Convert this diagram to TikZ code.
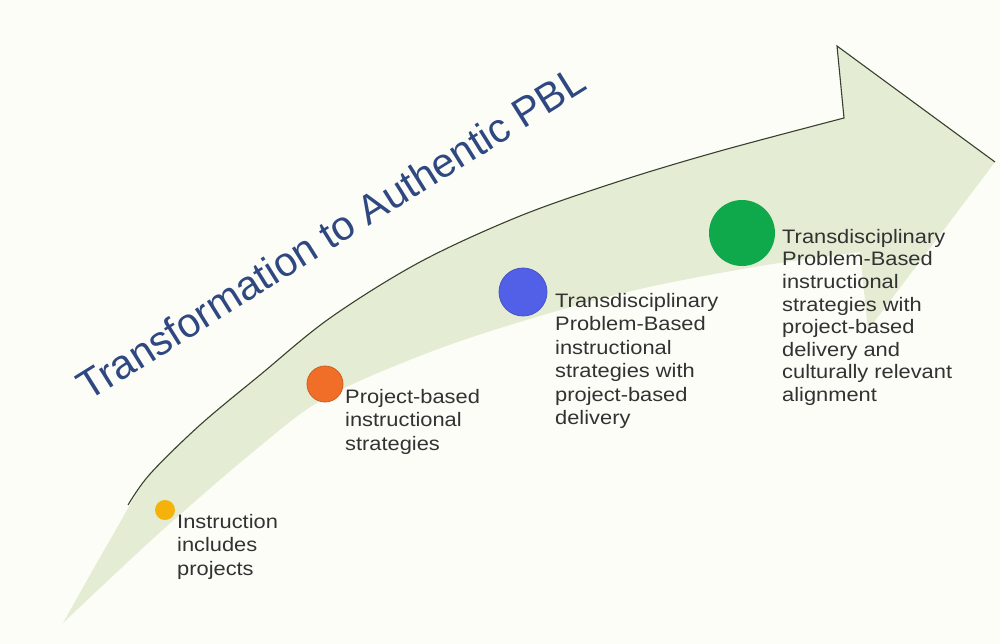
\documentclass[tikz,border=0pt]{standalone}
\usepackage{fontspec}
\setmainfont{Liberation Sans}
\newfontfamily\bodyfont[FakeStretch=1.12]{Liberation Sans}
\definecolor{bg}{RGB}{253,253,247}
\definecolor{arrowfill}{RGB}{228,236,212}
\definecolor{arrowedge}{RGB}{55,65,45}
\definecolor{titleblue}{RGB}{47,72,130}
\definecolor{txtgray}{RGB}{50,50,50}
\definecolor{cyellow}{RGB}{245,178,10}
\definecolor{corange}{RGB}{240,110,40}
\definecolor{cblue}{RGB}{82,96,232}
\definecolor{cgreen}{RGB}{15,168,75}
\begin{document}
\begin{tikzpicture}[x=1pt,y=-1pt,
  stagedot/.style={circle,inner sep=0pt,minimum size=#1},
  desc/.style={anchor=north west,inner sep=0pt,align=left,text=txtgray,
    font=\bodyfont\fontsize{19.5}{23.5}\selectfont},
  desctight/.style={desc,font=\bodyfont\fontsize{19.5}{22.6}\selectfont},
]
\useasboundingbox (0,0) rectangle (1000,644);
\fill[bg] (0,0) rectangle (1000,644);

% arrow body
\fill[arrowfill] plot[smooth,tension=0.55] coordinates {(63,623) (110,540) (150,474) (200,425) (260,375) (330,318) (420,262) (520,216) (620,181) (720,151) (844,118)}
  -- (837,46) -- (995,162) -- (868,330) -- (860,252)
  -- plot[smooth,tension=0.55] coordinates {(860,252) (760,266) (640,289) (533,318) (430,352) (325,398) (253,452) (157,535) (63,623)} -- cycle;

% dark outline on the upper edge and the arrow head
\draw[arrowedge,line width=1.1pt,line join=miter] plot[smooth,tension=0.55] coordinates {(128,505) (150,474) (200,425) (260,375) (330,318) (420,262) (520,216) (620,181) (720,151) (844,118)}
  -- (837,46) -- (995,162);

% title
\node[anchor=base west,rotate=32,inner sep=0pt,text=titleblue,
  font=\fontsize{41}{41}\selectfont] (title) at (88,402) {Transformation to Authentic PBL};

% stage dots
\node[stagedot=20,fill=cyellow] (d1) at (165,510) {};
\node[stagedot=36,fill=corange,draw=corange!85!black,line width=0.8pt] (d2) at (325,384) {};
\node[stagedot=48,fill=cblue,draw=cblue!85!black,line width=0.8pt] (d3) at (523,292) {};
\node[stagedot=66,fill=cgreen] (d4) at (742,233) {};

% stage texts
\node[desc] (t1) at (177,514) {Instruction\\includes\\projects};
\node[desc] (t2) at (345,389) {Project-based\\instructional\\strategies};
\node[desc] (t3) at (555,293) {Transdisciplinary\\Problem-Based\\instructional\\strategies with\\project-based\\delivery};
\node[desctight] (t4) at (782,229) {Transdisciplinary\\Problem-Based\\instructional\\strategies with\\project-based\\delivery and\\culturally relevant\\alignment};
\end{tikzpicture}
\end{document}
